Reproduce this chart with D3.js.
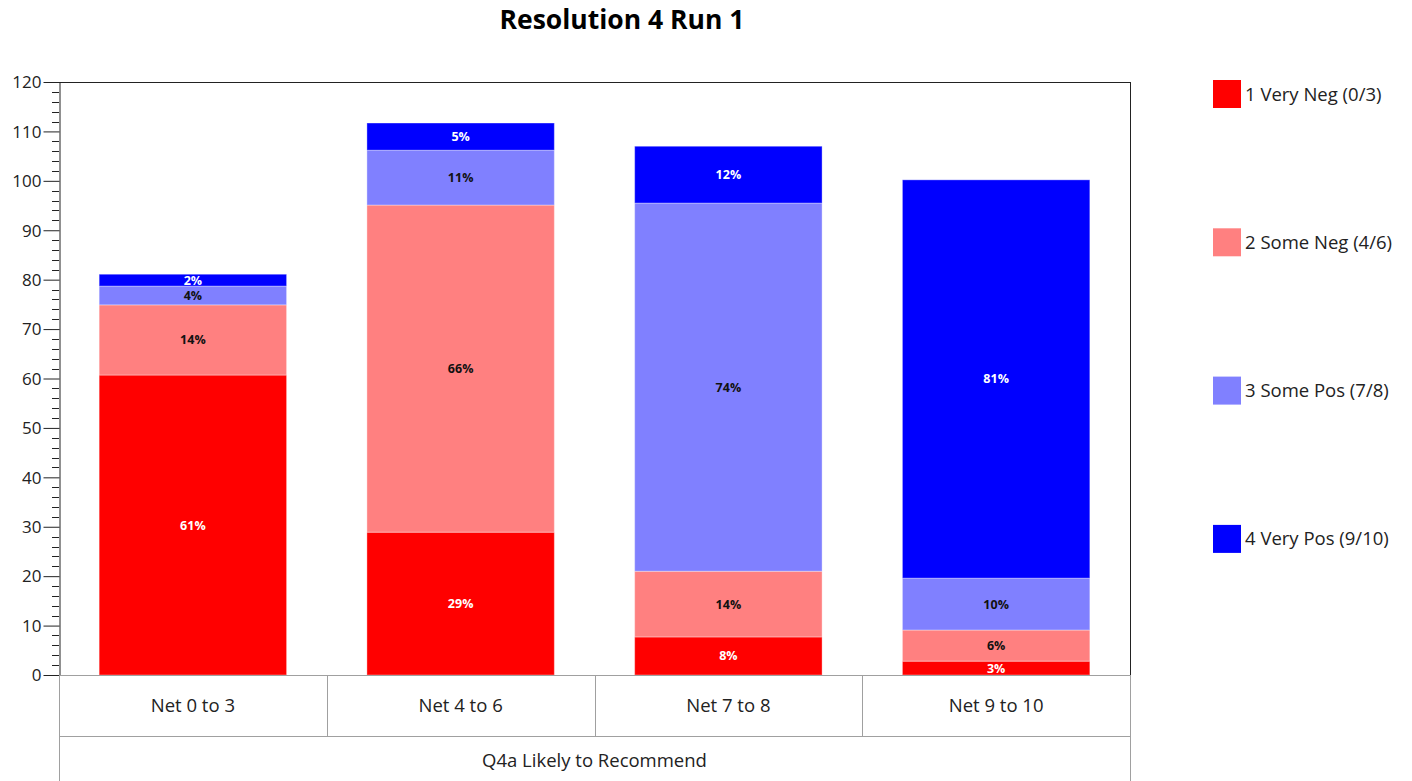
<!DOCTYPE html>
<html><head><meta charset="utf-8">
<script src="https://cdn.jsdelivr.net/npm/d3@7"></script>
<style>body{margin:0;background:#fff;} svg{display:block;font-family:"Open Sans","Noto Sans",sans-serif;}</style>
</head><body>
<svg id="c" width="1412" height="781"></svg>
<script>
const categories = ["Net 0 to 3", "Net 4 to 6", "Net 7 to 8", "Net 9 to 10"];
const seriesNames = ["1 Very Neg (0/3)", "2 Some Neg (4/6)", "3 Some Pos (7/8)", "4 Very Pos (9/10)"];
const veryNeg = [60.7, 28.9, 7.7, 2.8];
const someNeg = [14.2, 66.2, 13.3, 6.3];
const somePos = [3.8, 11.1, 74.5, 10.5];
const veryPos = [2.4, 5.5, 11.5, 80.6];
const veryNegLabels = ["61%", "29%", "8%", "3%"];
const someNegLabels = ["14%", "66%", "14%", "6%"];
const somePosLabels = ["4%", "11%", "74%", "10%"];
const veryPosLabels = ["2%", "5%", "12%", "81%"];
const colors = ["#ff0000", "#ff8080", "#8080ff", "#0000ff"];
const labelColors = ["#ffffff", "#111111", "#111111", "#ffffff"];
const yTicks = [0, 10, 20, 30, 40, 50, 60, 70, 80, 90, 100, 110, 120];
const title = "Resolution 4 Run 1";
const xTitle = "Q4a Likely to Recommend";

const labels = [veryNegLabels, someNegLabels, somePosLabels, veryPosLabels];
const svg = d3.select("#c");
const L = 59, R = 1130, T = 82, B = 675, tableMid = 736, H = 781;
const y = d3.scaleLinear().domain([0, 120]).range([B, T]);
const x = d3.scaleBand().domain(categories).range([L, R]).paddingInner(0.3).paddingOuter(0.15);
const xCat = d3.scaleBand().domain(categories).range([L, R]);

const rows = categories.map((c, i) => ({cat: c, idx: i, s0: veryNeg[i], s1: someNeg[i], s2: somePos[i], s3: veryPos[i]}));
const stack = d3.stack().keys(["s0", "s1", "s2", "s3"])(rows);

// title
svg.append("text").attr("x", 622).attr("y", 29).attr("text-anchor", "middle")
  .attr("font-size", 26.5).attr("font-weight", "bold").attr("fill", "#000").text(title);

// bars
stack.forEach((layer, k) => {
  const g = svg.append("g");
  g.selectAll("rect").data(layer).join("rect")
    .attr("x", d => x(d.data.cat)).attr("width", x.bandwidth())
    .attr("y", d => y(d[1])).attr("height", d => y(d[0]) - y(d[1]))
    .attr("fill", colors[k]).attr("stroke", "rgba(255,255,255,0.35)").attr("stroke-width", 1);
  g.selectAll("text").data(layer).join("text")
    .attr("x", d => x(d.data.cat) + x.bandwidth() / 2)
    .attr("y", d => (y(d[0]) + y(d[1])) / 2 + 4.5)
    .attr("text-anchor", "middle").attr("font-size", 12.5).attr("font-weight", "bold")
    .attr("fill", labelColors[k]).text(d => labels[k][d.data.idx]);
});

// frame
svg.append("line").attr("x1", L).attr("x2", R).attr("y1", T + 0.5).attr("y2", T + 0.5).attr("stroke", "#222");
svg.append("line").attr("x1", R + 0.5).attr("x2", R + 0.5).attr("y1", T).attr("y2", B).attr("stroke", "#222");

// y axis
const yAxis = d3.axisLeft(y).tickValues(yTicks).tickSize(16).tickSizeOuter(0).tickPadding(2);
const ga = svg.append("g").attr("transform", `translate(${L + 0.5},0)`).call(yAxis);
ga.select(".domain").attr("stroke", "#222");
ga.selectAll(".tick line").attr("stroke", "#222");
ga.selectAll(".tick text").attr("font-size", 17).attr("fill", "#222").attr("font-family", "Open Sans, sans-serif").attr("dy", "0.34em");
const minor = d3.range(0, 121, 2).filter(v => v % 10 !== 0);
svg.append("g").selectAll("line").data(minor).join("line")
  .attr("x1", L - 7).attr("x2", L).attr("y1", d => Math.round(y(d)) + 0.5).attr("y2", d => Math.round(y(d)) + 0.5)
  .attr("stroke", "#222");

// category table
const grid = "#a0a0a0";
svg.append("line").attr("x1", L).attr("x2", R).attr("y1", B + 0.5).attr("y2", B + 0.5).attr("stroke", grid);
svg.append("line").attr("x1", L).attr("x2", R).attr("y1", tableMid + 0.5).attr("y2", tableMid + 0.5).attr("stroke", grid);
svg.append("line").attr("x1", L + 0.5).attr("x2", L + 0.5).attr("y1", B).attr("y2", H).attr("stroke", grid);
svg.append("line").attr("x1", R + 0.5).attr("x2", R + 0.5).attr("y1", B).attr("y2", H).attr("stroke", grid);
svg.append("g").selectAll("line").data(categories).join("line")
  .attr("x1", d => Math.round(xCat(d) + xCat.bandwidth()) + 0.5).attr("x2", d => Math.round(xCat(d) + xCat.bandwidth()) + 0.5)
  .attr("y1", B).attr("y2", tableMid).attr("stroke", grid);
svg.append("g").selectAll("text").data(categories).join("text")
  .attr("x", d => xCat(d) + xCat.bandwidth() / 2).attr("y", 712)
  .attr("text-anchor", "middle").attr("font-size", 18.5).attr("fill", "#222").text(d => d);
svg.append("text").attr("x", (L + R) / 2).attr("y", 767).attr("text-anchor", "middle")
  .attr("font-size", 18.5).attr("fill", "#222").text(xTitle);

// legend
const lg = svg.append("g");
seriesNames.forEach((n, i) => {
  const cy = 94 + i * 148.3;
  lg.append("rect").attr("x", 1213).attr("y", cy - 14).attr("width", 28).attr("height", 28).attr("fill", colors[i]);
  lg.append("text").attr("x", 1245).attr("y", cy + 6.5).attr("font-size", 18.5).attr("fill", "#222").text(n);
});
</script>
</body></html>
